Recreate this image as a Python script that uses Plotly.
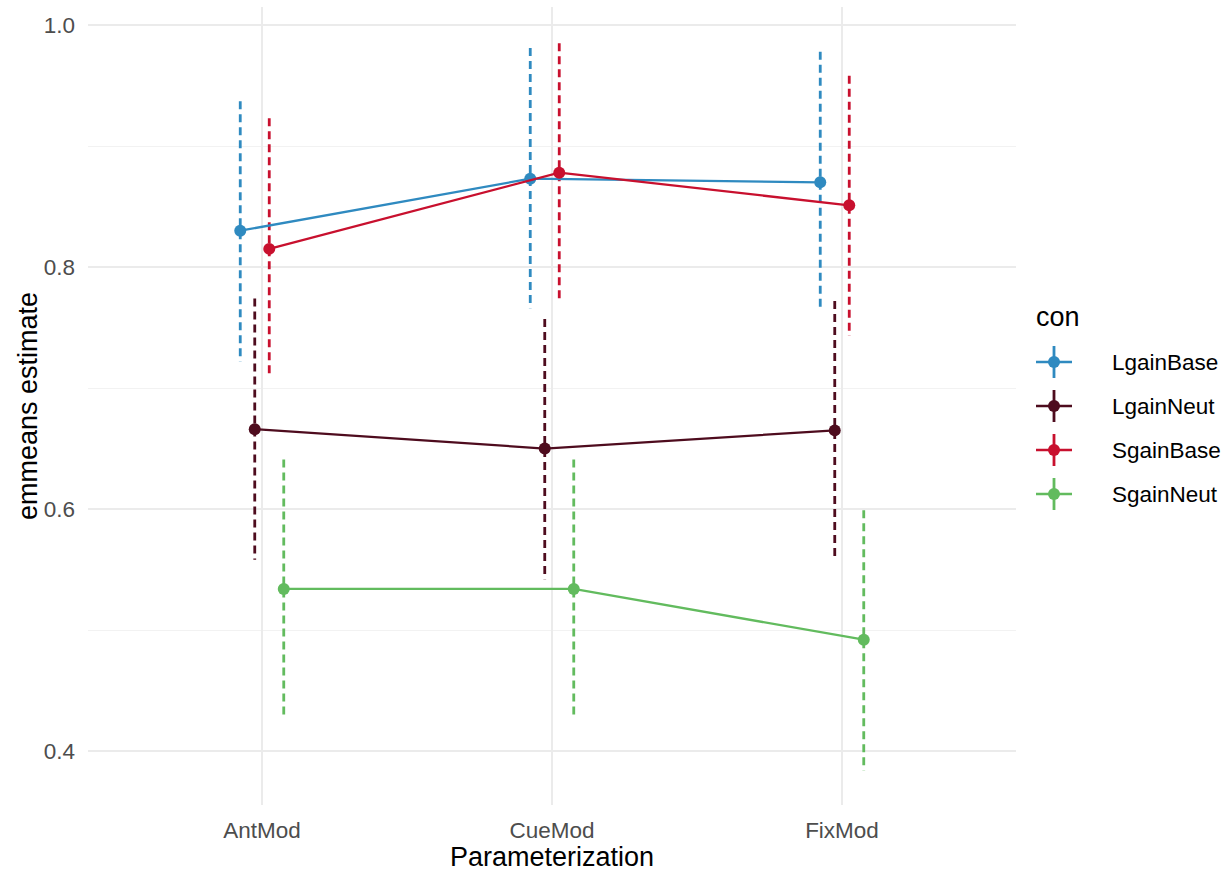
import plotly.graph_objects as go

# Estimated marginal means by parameterization and condition
params = ["AntMod", "CueMod", "FixMod"]
conditions = ["LgainBase", "LgainNeut", "SgainBase", "SgainNeut"]

lgainbase_est = [0.830, 0.873, 0.870]
lgainbase_lo = [0.722, 0.766, 0.763]
lgainbase_hi = [0.937, 0.981, 0.978]

lgainneut_est = [0.666, 0.650, 0.665]
lgainneut_lo = [0.558, 0.542, 0.557]
lgainneut_hi = [0.774, 0.757, 0.772]

sgainbase_est = [0.815, 0.878, 0.851]
sgainbase_lo = [0.708, 0.771, 0.743]
sgainbase_hi = [0.923, 0.985, 0.958]

sgainneut_est = [0.534, 0.534, 0.492]
sgainneut_lo = [0.426, 0.426, 0.384]
sgainneut_hi = [0.641, 0.641, 0.599]

colors = {
    "LgainBase": "#2F8AC0",
    "LgainNeut": "#4E0C1E",
    "SgainBase": "#C8102E",
    "SgainNeut": "#62BB5E",
}

series = {
    "LgainBase": (lgainbase_est, lgainbase_lo, lgainbase_hi),
    "LgainNeut": (lgainneut_est, lgainneut_lo, lgainneut_hi),
    "SgainBase": (sgainbase_est, sgainbase_lo, sgainbase_hi),
    "SgainNeut": (sgainneut_est, sgainneut_lo, sgainneut_hi),
}

# position dodge: width 0.2 shared across the four conditions
dodge_width = 0.2
n = len(conditions)
offsets = {c: (i - (n - 1) / 2) * dodge_width / n for i, c in enumerate(conditions)}

FONT = "Liberation Sans, Arial, sans-serif"
W, H = 1228, 873
L, R, T, B = 88, 212, 7, 68
TITLE_SIZE = 27
TEXT_SIZE = 22.5

fig = go.Figure()

# dashed error bars first
for c in conditions:
    est, lo, hi = series[c]
    xs, ys = [], []
    for k in range(len(params)):
        xpos = k + 1 + offsets[c]
        xs += [xpos, xpos, None]
        ys += [hi[k], lo[k], None]
    fig.add_trace(go.Scatter(
        x=xs, y=ys, mode="lines", showlegend=False, hoverinfo="skip",
        line=dict(color=colors[c], width=2.8, dash="8px,5px"),
    ))

# connecting lines and points
for c in conditions:
    est, lo, hi = series[c]
    xs = [k + 1 + offsets[c] for k in range(len(params))]
    fig.add_trace(go.Scatter(
        x=xs, y=est, mode="lines+markers", name=c, showlegend=False,
        line=dict(color=colors[c], width=2.3),
        marker=dict(color=colors[c], size=12),
    ))

# hand-built legend (key shows line, point and vertical bar)
pw = W - L - R
ph = H - T - B


def px_x(px):
    return (px - L) / pw


def px_y(py):
    return (H - B - py) / ph


shapes = []
annotations = []
annotations.append(dict(
    x=px_x(1034), y=px_y(317), xref="paper", yref="paper",
    text="con", showarrow=False, xanchor="left", yanchor="middle",
    font=dict(family=FONT, size=TITLE_SIZE, color="#000000"),
))
key_cx = 1054
item_y0 = 362
item_dy = 44
for i, c in enumerate(conditions):
    cy = item_y0 + i * item_dy
    col = colors[c]
    shapes.append(dict(type="line", xref="paper", yref="paper",
                       x0=px_x(key_cx - 18), x1=px_x(key_cx + 18),
                       y0=px_y(cy), y1=px_y(cy),
                       line=dict(color=col, width=2.4)))
    shapes.append(dict(type="line", xref="paper", yref="paper",
                       x0=px_x(key_cx), x1=px_x(key_cx),
                       y0=px_y(cy - 16), y1=px_y(cy + 16),
                       line=dict(color=col, width=2.8)))
    r = 6
    shapes.append(dict(type="circle", xref="paper", yref="paper",
                       x0=px_x(key_cx - r), x1=px_x(key_cx + r),
                       y0=px_y(cy + r), y1=px_y(cy - r),
                       fillcolor=col, line=dict(color=col, width=0)))
    annotations.append(dict(
        x=px_x(1110), y=px_y(cy), xref="paper", yref="paper",
        text=c, showarrow=False, xanchor="left", yanchor="middle",
        font=dict(family=FONT, size=TEXT_SIZE, color="#000000"),
    ))

# y axis title
annotations.append(dict(
    x=px_x(28), y=0.5, xref="paper", yref="paper",
    text="emmeans estimate", showarrow=False, textangle=-90,
    xanchor="center", yanchor="middle",
    font=dict(family=FONT, size=TITLE_SIZE, color="#000000"),
))

fig.update_layout(
    width=W, height=H,
    margin=dict(l=L, r=R, t=T, b=B),
    paper_bgcolor="white", plot_bgcolor="white",
    font=dict(family=FONT),
    shapes=shapes, annotations=annotations,
    showlegend=False,
)

fig.update_xaxes(
    range=[0.4, 3.6], tickmode="array", tickvals=[1, 2, 3], ticktext=params,
    showgrid=True, gridcolor="#EBEBEB", gridwidth=2, zeroline=False,
    showline=False, ticks="",
    tickfont=dict(family=FONT, size=TEXT_SIZE, color="#4D4D4D"),
    ticklabelstandoff=9,
    title=dict(text="Parameterization", font=dict(family=FONT, size=TITLE_SIZE, color="#000000"),
               standoff=4),
)
fig.update_yaxes(
    range=[0.3554, 1.0149], tickmode="array", tickvals=[0.4, 0.6, 0.8, 1.0],
    ticktext=["0.4", "0.6", "0.8", "1.0"],
    showgrid=True, gridcolor="#EBEBEB", gridwidth=2, zeroline=False,
    showline=False, ticks="",
    tickfont=dict(family=FONT, size=TEXT_SIZE, color="#4D4D4D"),
    ticklabelstandoff=12,
    minor=dict(tickvals=[0.5, 0.7, 0.9], showgrid=True, gridcolor="#F2F2F2", gridwidth=1.2),
)

fig.write_html("out.html")
